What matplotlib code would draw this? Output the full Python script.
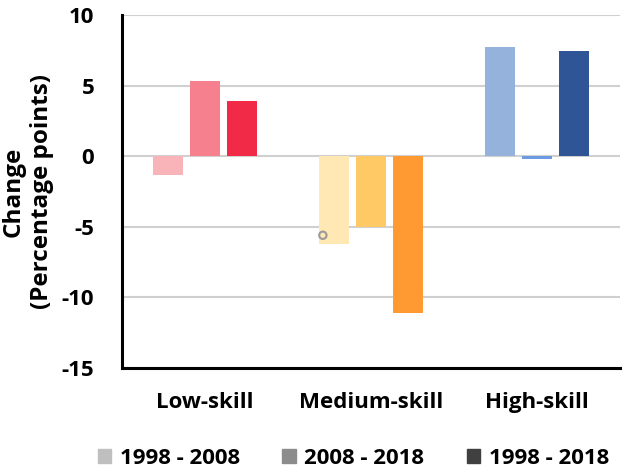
import numpy as np
import matplotlib
matplotlib.use('Agg')
import matplotlib.pyplot as plt
from matplotlib.patches import Patch

# data
categories = ['Low-skill', 'Medium-skill', 'High-skill']
periods = ['1998 - 2008', '2008 - 2018', '1998 - 2018']
v_9808 = [-1.35, -6.2, 7.7]
v_0818 = [5.3, -5.0, -0.2]
v_9818 = [3.9, -11.1, 7.45]
bar_colors = [
    ['#F9B4B9', '#F7808F', '#F12A48'],
    ['#FFE8B3', '#FFC965', '#FF9A33'],
    ['#95B2DD', '#6C9BE3', '#2F5596'],
]
legend_colors = ['#BFBFBF', '#8C8C8C', '#404040']
stray_marker = (-0.29, -5.6)

plt.rcParams['font.family'] = ['Open Sans', 'DejaVu Sans']
plt.rcParams['font.weight'] = 'bold'
plt.rcParams['axes.unicode_minus'] = False

fig = plt.figure(figsize=(6.31, 4.68), dpi=100)
ax = fig.add_axes([0.1933, 0.2137, 0.7893, 0.7543])

x = np.arange(len(categories))
w = 0.18
step = 0.223
series = [v_9808, v_0818, v_9818]
for i, vals in enumerate(series):
    for j, v in enumerate(vals):
        ax.bar(x[j] + (i - 1) * step, v, width=w, color=bar_colors[j][i], zorder=3)

ax.scatter([stray_marker[0] + 1], [stray_marker[1]], s=28, facecolors='none',
           edgecolors='#9A9A9A', linewidths=1.5, zorder=4)

fs = 16
ax.set_xlim(-0.5, 2.5)
ax.set_ylim(-15, 10)
ax.set_yticks(np.arange(-15, 11, 5))
ax.set_xticks(x)
ax.set_xticklabels(categories, fontsize=fs, fontweight='bold')
ax.tick_params(axis='y', labelsize=fs, length=0, pad=20)
ax.tick_params(axis='x', length=0, pad=17)
for t in ax.get_yticklabels():
    t.set_fontweight('bold')
ax.grid(axis='y', color='#D0D0D0', linewidth=1.5, zorder=0)
for s in ['top', 'right']:
    ax.spines[s].set_visible(False)
ax.spines['left'].set_linewidth(2.2)
ax.spines['bottom'].set_linewidth(2.2)
ax.set_ylabel('Change\n(Percentage points)', fontsize=17.5, fontweight='bold',
              linespacing=1.25)
ax.yaxis.set_label_coords(-0.136, 0.5)

handles = [Patch(color=c) for c in legend_colors]
fig.legend(handles, periods, loc='lower center', ncol=3, frameon=False,
           bbox_to_anchor=(0.56, -0.045), prop={'size': fs, 'weight': 'bold'},
           handlelength=0.6, handleheight=0.6, handletextpad=0.4, columnspacing=1.9)

fig.savefig('out.png', dpi=100)
